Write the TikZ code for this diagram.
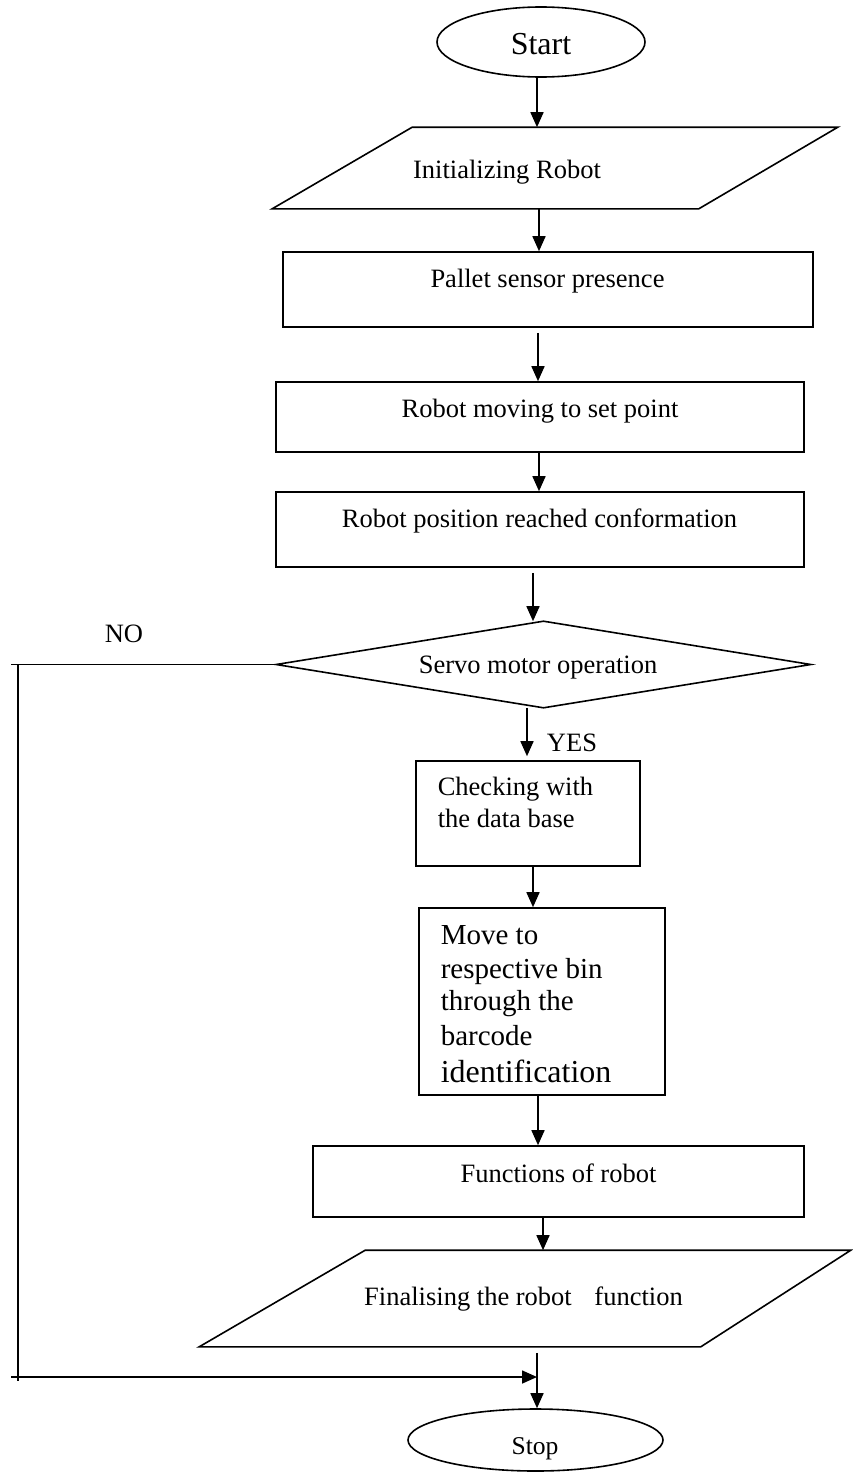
\documentclass[tikz,border=0pt]{standalone}
\usepackage{fontspec}
\setmainfont{Liberation Serif}
\usetikzlibrary{arrows.meta,shapes.geometric,calc}
\begin{document}
\begin{tikzpicture}[x=1pt,y=-1pt,
  line width=1.6pt,
  arr/.style={-{Triangle[length=15pt,width=13pt]}},
  box/.style={draw, rectangle, inner sep=0pt},
  shp/.style={draw=none, rectangle, inner sep=0pt},
  txt/.style={inner sep=0pt, anchor=base, font=\fontsize{26.5}{32}\selectfont},
  txtl/.style={inner sep=0pt, anchor=base west, font=\fontsize{26.5}{32}\selectfont},
  big/.style={inner sep=0pt, anchor=base west, font=\fontsize{29}{34}\selectfont},
]
\useasboundingbox (0,0) rectangle (852,1472);

% shapes
\node[draw, ellipse, minimum width=208, minimum height=70, inner sep=0pt] (start) at (541,42) {};
\node[inner sep=0pt, anchor=base, font=\fontsize{32}{36}\selectfont] (startT) at (541,55) {Start};

\node[shp, minimum width=564, minimum height=80] (init) at (555,168) {};
\draw ([xshift=140pt]init.north west) -- (init.north east) -- ([xshift=-139pt]init.south east) -- (init.south west) -- cycle;
\node[txt] (initT) at (507,178) {Initializing Robot};

\node[box, minimum width=530, minimum height=75] (pallet) at (548,289.5) {};
\node[txt] (palletT) at (547.5,287) {Pallet sensor presence};

\node[box, minimum width=528, minimum height=70] (move) at (540,417) {};
\node[txt] (moveT) at (540,417) {Robot moving to set point};

\node[box, minimum width=528, minimum height=75] (reach) at (540,529.5) {};
\node[txt] (reachT) at (539.5,527) {Robot position reached conformation};

\node[shp, minimum width=533, minimum height=85] (dia) at (543.5,664.5) {};
\draw (dia.west) -- (dia.north) -- (dia.east) -- (dia.south) -- cycle;
\node[txt] (diaT) at (538,673) {Servo motor operation};

\node[txt] (no) at (124,642) {NO};
\node[txt] (yes) at (572,751) {YES};

\node[box, minimum width=224, minimum height=105] (check) at (528,813.5) {};
\node[txtl] (chk1) at (437,795) {Checking with};
\node[txtl] (chk2) at (437,827) {the data base};

\node[box, minimum width=246, minimum height=187] (move2) at (542,1001.5) {};
\node[big] (mv1) at (440,944) {Move to};
\node[big] (mv2) at (440,978) {respective bin};
\node[big] (mv3) at (440,1010) {through the};
\node[big] (mv4) at (440,1045) {barcode};
\node[inner sep=0pt, anchor=base west, font=\fontsize{32}{36}\selectfont] (mv5) at (440,1082) {identification};

\node[box, minimum width=491, minimum height=71] (func) at (558.5,1181.5) {};
\node[txt] (funcT) at (558.5,1182) {Functions of robot};

\node[shp, minimum width=650, minimum height=95] (final) at (525,1298.5) {};
\draw ([xshift=166pt]final.north west) -- (final.north east) -- ([xshift=-150pt]final.south east) -- (final.south west) -- cycle;
\node[txt] (finalT) at (523.5,1305) {Finalising the robot\hspace{16pt} function};

\node[draw, ellipse, minimum width=255, minimum height=62, inner sep=0pt] (stop) at (535.5,1440) {};
\node[inner sep=0pt, anchor=base, font=\fontsize{25.6}{30}\selectfont] (stopT) at (535,1454) {Stop};

% connector x positions
\coordinate (a1) at (537,0);
\coordinate (a2) at (539,0);
\coordinate (a3) at (538,0);
\coordinate (a4) at (539,0);
\coordinate (a5) at (533,0);
\coordinate (a6) at (527,0);
\coordinate (a7) at (533,0);
\coordinate (a8) at (538,0);
\coordinate (a9) at (543,0);
\coordinate (a10) at (537,0);
\coordinate (noend) at (11,664.5);
\coordinate (notop) at (18,664.5);
\coordinate (nobot) at (18,1381);
\coordinate (noleft) at (11,1377);
\coordinate (join) at (537,1377);

\draw[arr] (start.south -| a1) -- (init.north -| a1);
\draw[arr] (init.south -| a2) -- (pallet.north -| a2);
\draw[arr] ([yshift=-5pt]pallet.south -| a3) -- (move.north -| a3);
\draw[arr] (move.south -| a4) -- (reach.north -| a4);
\draw[arr] ([yshift=-5pt]reach.south -| a5) -- (dia.north -| a5);
\draw[arr] (dia.south -| a6) -- ([yshift=4pt]check.north -| a6);
\draw[arr] (check.south -| a7) -- (move2.north -| a7);
\draw[arr] (move2.south -| a8) -- (func.north -| a8);
\draw[arr] (func.south -| a9) -- (final.north -| a9);
\draw[arr] ([yshift=-6pt]final.south -| a10) -- (stop.north -| a10);
% NO branch
\draw (dia.west) -- (noend);
\draw (notop) -- (nobot);
\draw[arr] (noleft) -- (join);
\end{tikzpicture}
\end{document}
